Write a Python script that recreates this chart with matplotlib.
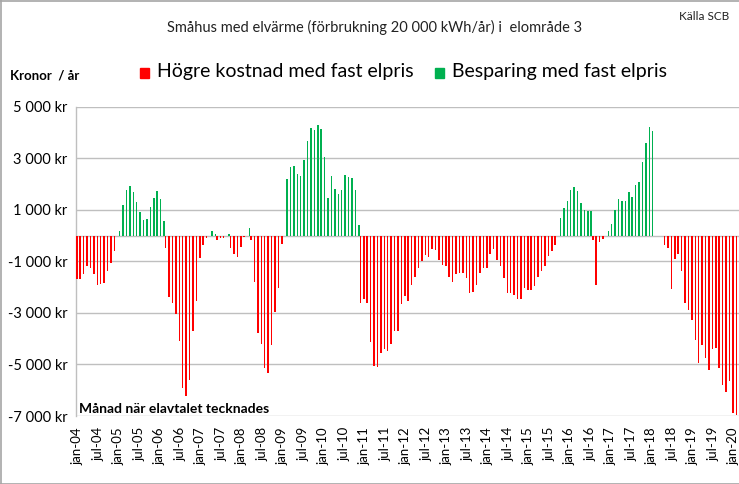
import matplotlib
matplotlib.use("Agg")
import matplotlib.pyplot as plt
import numpy as np
from matplotlib.lines import Line2D

# ---- data (kr/år, month of contract, jan-04 .. feb-20) ----
month_names = ["jan", "feb", "mar", "apr", "maj", "jun", "jul", "aug", "sep", "okt", "nov", "dec"]
start_year = 2004

v2004 = [-1680, -1680, -1510, -1190, -1250, -1510, -1900, -1870, -1830, -1380, -1060, -610]
v2005_06 = [170, 1200, 1750, 1910, 1680, 1290, 900, 620, 650, 1110, 1450, 1720, 1420, 550]
v2006_07 = [-480, -2390, -2630, -3060, -4090, -5900, -6220, -5610, -3700, -2520, -860, -350, -90]
v2007_08 = [190, 60, -170, -80, -80, 60, -490, -720, -850, -460, -40, 310, -180, -1810]
v2008_09 = [-3770, -4190, -5120, -5340, -4250, -2970, -2050, -320]
v2009_10 = [2210, 2660, 2680, 2400, 2320, 2940, 3680, 4190, 4080, 4300, 4130, 3050, 1450,
            2300, 1810, 1610, 1780, 2360, 2270, 2230, 1780, 400]
v2010_12 = [-2610, -2450, -2630, -4130, -5060, -5100, -4570, -4390, -4480, -4190, -3700, -3700,
            -2670, -2350, -2540, -1920]
v2012_14 = [-1600, -1250, -990, -750, -830, -540, -570, -930, -1150, -1190, -1600, -1790,
            -1510, -1450, -1450, -1660, -2220, -2180, -1920, -1470, -1250, -1250, -700, -540, -960]
v2014_15 = [-1190, -1640, -2220, -2220, -2310, -2450, -2480, -2050, -2130, -2120, -1940, -1600,
            -1380, -1190, -800, -610, -350]
v2015_16 = [700, 1070, 1340, 1750, 1880, 1720, 1260, 1000, 935, 965]
v2016_17 = [-190, -1900, -230, -130]
v2017_18 = [170, 430, 980, 1420, 1350, 1350, 1680, 1480, 1970, 2060, 2850, 3610, 4230, 4060]
v2018 = [0, 0, 0]
v2018_20 = [-360, -480, -2060, -890, -700, -1380, -2630, -2890, -3280, -4050, -4950, -4250, -4740,
            -5210, -4410, -4350, -5120, -5810, -6060, -5640, -6890, -6970]

values = (v2004 + v2005_06 + v2006_07 + v2007_08 + v2008_09 + v2009_10 + v2010_12 + v2012_14
          + v2014_15 + v2015_16 + v2016_17 + v2017_18 + v2018 + v2018_20)

y_ticks = [5000, 3000, 1000, -1000, -3000, -5000, -7000]
y_tick_labels = ["5 000 kr", "3 000 kr", "1 000 kr", "-1 000 kr", "-3 000 kr", "-5 000 kr", "-7 000 kr"]

title = "Småhus med elvärme (förbrukning 20 000 kWh/år) i  elområde 3"
source = "Källa SCB"
y_label = "Kronor  / år"
x_label = "Månad när elavtalet tecknades"
legend_red = "Högre kostnad med fast elpris"
legend_green = "Besparing med fast elpris"

RED = "#FF0000"
GREEN = "#00B050"
GRID = "#BFBFBF"
FONT = ["Lato", "DejaVu Sans"]

# ---- derived ----
vals = np.array(values, dtype=float)
N = len(vals)
x = np.arange(N)
neg = np.where(vals < 0, vals, 0.0)
pos = np.where(vals > 0, vals, 0.0)
cat_labels = [f"{month_names[i % 12]}-{(start_year + i // 12) % 100:02d}" for i in range(N)]
tick_idx = list(range(0, N, 6))

W, H = 739, 484
fig = plt.figure(figsize=(W / 100, H / 100), dpi=100)
plt.rcParams["font.family"] = FONT

left_px, top_px, bottom_px = 76.0, 106.7, 416.0
cat_w = 3.417
ax = fig.add_axes([left_px / W, 1 - bottom_px / H, N * cat_w / W, (bottom_px - top_px) / H])

ax.bar(x - 0.27, neg, width=0.44, color=RED, linewidth=0, zorder=3)
ax.bar(x + 0.27, pos, width=0.44, color=GREEN, linewidth=0, zorder=3)

ax.set_xlim(-0.5, N - 0.5)
ax.set_ylim(-7000, 5000)
ax.set_yticks(y_ticks)
ax.set_yticklabels(y_tick_labels, fontsize=10.5, family=FONT)
ax.set_xticks(tick_idx)
ax.set_xticklabels([cat_labels[i] for i in tick_idx], rotation=90, fontsize=9.5, family=FONT)
ax.tick_params(axis="both", length=0, pad=6)
ax.tick_params(axis="x", pad=8)

for yv in y_ticks:
    ax.axhline(yv, color=GRID, lw=1.0, zorder=1)
ax.axhline(0, color=GRID, lw=1.0, zorder=2)
for s in ["top", "right", "bottom"]:
    ax.spines[s].set_visible(False)
ax.spines["left"].set_color(GRID)
ax.spines["left"].set_linewidth(1.0)

ax.text(0.004, 0.004, x_label, transform=ax.transAxes, fontsize=10, fontweight="bold",
        ha="left", va="bottom", family=FONT)

# ---- figure texts ----
fig.text(375 / W, 1 - 27 / H, title, ha="center", va="center", fontsize=10.5, color="#222222", family=FONT)
fig.text(704 / W, 1 - 17 / H, source, ha="center", va="center", fontsize=8.5, color="#222222", family=FONT)
fig.text(10 / W, 1 - 75 / H, y_label, ha="left", va="center", fontsize=9.5, fontweight="bold", family=FONT)

fig.patches.append(plt.Rectangle((140 / W, 1 - 78 / H), 9 / W, 10 / H, transform=fig.transFigure,
                                 color=RED, figure=fig))
fig.text(157 / W, 1 - 72 / H, legend_red, ha="left", va="center", fontsize=14, family=FONT)
fig.patches.append(plt.Rectangle((435 / W, 1 - 78 / H), 9 / W, 10 / H, transform=fig.transFigure,
                                 color=GREEN, figure=fig))
fig.text(452 / W, 1 - 72 / H, legend_green, ha="left", va="center", fontsize=14, family=FONT)

# chart-area border
for (xa, ya) in [((0.5 / W, 0.5 / W), (0, 1)), ((0, 1), (1 - 0.5 / H, 1 - 0.5 / H)),
                 ((0, 1), (0.5 / H, 0.5 / H))]:
    fig.lines.append(Line2D(xa, ya, transform=fig.transFigure, color="#A6A6A6", lw=1.2))

fig.savefig("out.png", dpi=100)
